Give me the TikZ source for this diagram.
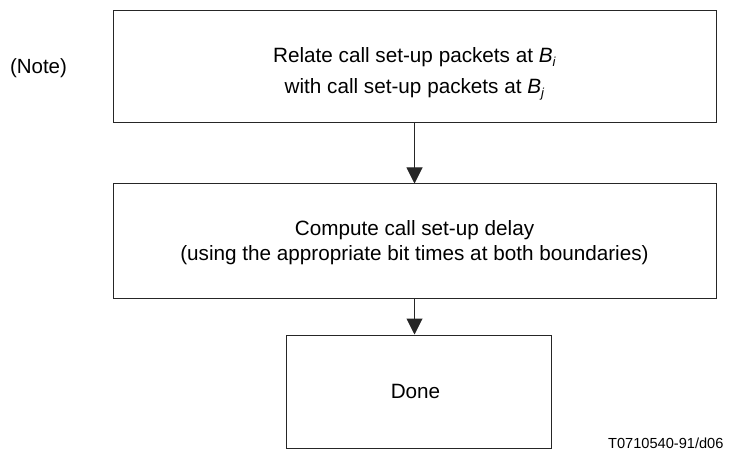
\documentclass[tikz,border=0pt]{standalone}
\usepackage{fontspec}
\setmainfont{Liberation Sans}
\usetikzlibrary{arrows.meta}

\newcommand{\subidx}[1]{\raisebox{-4.5pt}{\fontsize{13}{13}\selectfont\textit{#1}}}

\begin{document}
\begin{tikzpicture}[x=1pt,y=1pt,
    flowbox/.style={draw=black!85, line width=1pt, rectangle, inner sep=0pt},
    flowtext/.style={align=center, inner sep=0pt, font=\fontsize{20.7}{25}\selectfont},
    flowarrow/.style={draw=black!85, line width=1pt,
      -{Triangle[width=16pt,length=16pt]}},
    notetext/.style={font=\fontsize{20.5}{25}\selectfont},
    reftext/.style={font=\fontsize{14.6}{17}\selectfont, anchor=base east}
  ]
  \useasboundingbox (0,0) rectangle (738,453);

  % process boxes
  \node[flowbox, minimum width=603pt, minimum height=112pt] (relate) at (414.5,386) {};
  \node[flowbox, minimum width=603pt, minimum height=114pt] (compute) at (414.5,212) {};
  \node[flowbox, minimum width=265pt, minimum height=113pt] (done) at (418.5,61.5) {};

  % box texts
  \node[flowtext] (relatetext) at ([yshift=-7pt]relate.center)
    {Relate call set-up packets at \textit{B}\subidx{i}\\[6pt]
     with call set-up packets at \textit{B}\subidx{j}};
  \node[flowtext] (computetext) at ([yshift=-1.5pt]compute.center)
    {Compute call set-up delay\\
     (using the appropriate bit times at both boundaries)};
  \node[flowtext] (donetext) at ([xshift=-3pt]done.center) {Done};

  % side note and figure reference
  \node[notetext] (note) at (38.5,385) {(Note)};
  \node[reftext] (ref) at (727,5) {T0710540-91/d06};

  % flow connectors
  \draw[flowarrow] (relate.south) -- (compute.north);
  \draw[flowarrow] (compute.south) -- (compute.south |- done.north);
\end{tikzpicture}
\end{document}
